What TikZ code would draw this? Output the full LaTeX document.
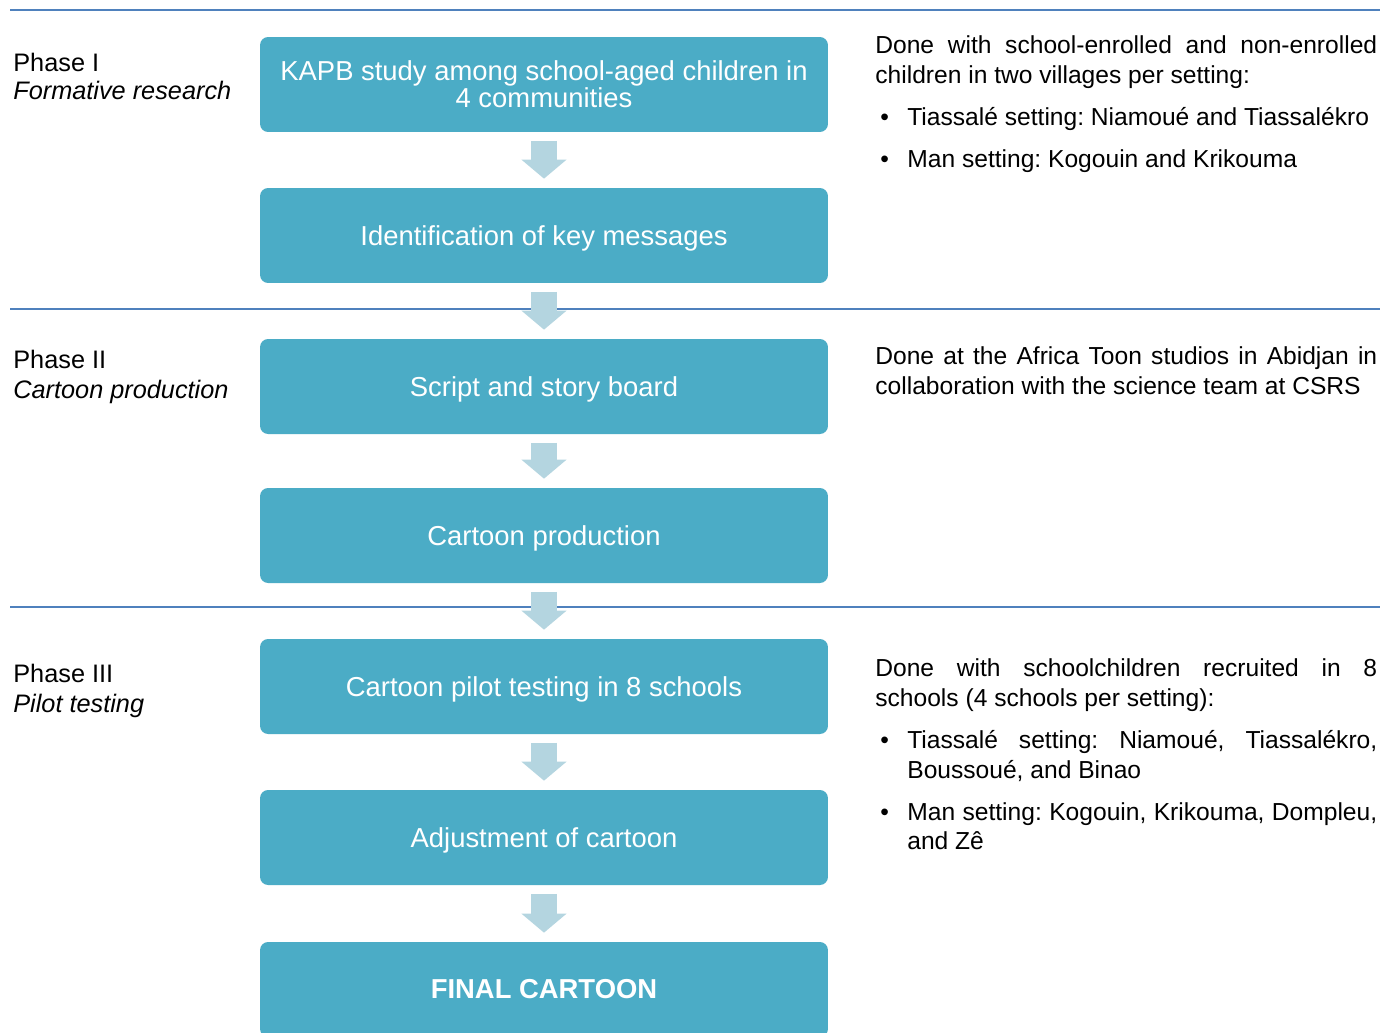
\documentclass[tikz,border=0pt]{standalone}
\usepackage{fontspec}
\setmainfont{Liberation Sans}
\usetikzlibrary{arrows.meta,calc}
\definecolor{boxblue}{HTML}{4BACC6}
\definecolor{arrowblue}{HTML}{B4D5E0}
\definecolor{ruleblue}{HTML}{4F81BD}
\newcommand{\bul}{\makebox[0.64cm][l]{\hspace{0.1cm}\textbullet}}
\newcommand{\lowered}[1]{\raisebox{-0.06cm}[\height][\depth]{#1}}
\frenchspacing
\begin{document}
\begin{tikzpicture}[x=0.02cm,y=-0.02cm,
  stepbox/.style={rounded corners=0.16cm, fill=boxblue, minimum width=11.36cm, minimum height=1.9cm, text=white, font=\fontsize{15.6}{15.4}\selectfont, align=center, inner sep=0},
  flowarrow/.style={draw=arrowblue, line width=0.52cm, -{Triangle[width=0.88cm,length=0.38cm]}, shorten <=0.17cm, shorten >=0.18cm},
  phaserule/.style={draw=ruleblue, line width=0.045cm},
  phaselabel/.style={anchor=base west, inner sep=0, font=\fontsize{14.4}{17}\selectfont},
  note/.style={anchor=base west, inner sep=0, font=\fontsize{14}{17}\selectfont},
]
\useasboundingbox (0,0) rectangle (1382,1032);
\fill[white] (0,0) rectangle (1382,1032);
% phase rules
\coordinate (r1l) at (10,10);   \coordinate (r1r) at (1380,10);
\coordinate (r2l) at (10,309);  \coordinate (r2r) at (1380,309);
\coordinate (r3l) at (10,607);  \coordinate (r3r) at (1380,607);
\draw[phaserule] (r1l) -- (r1r);
\draw[phaserule] (r2l) -- (r2r);
\draw[phaserule] (r3l) -- (r3r);
% boxes
\node[stepbox] (b1) at (544,84.5) {KAPB study among school-aged children in\\4 communities};
\node[stepbox] (b2) at (544,235.5) {\lowered{Identification of key messages}};
\node[stepbox] (b3) at (544,386.5) {\lowered{Script and story board}};
\node[stepbox] (b4) at (544,535.5) {\lowered{Cartoon production}};
\node[stepbox] (b5) at (544,686.5) {\lowered{Cartoon pilot testing in 8 schools}};
\node[stepbox] (b6) at (544,837.5) {\lowered{Adjustment of cartoon}};
\node[stepbox] (b7) at (544,989.5) {\bfseries FINAL CARTOON};
% arrows
\draw[flowarrow] (b1.south) -- (b2.north);
\draw[flowarrow] (b2.south) -- (b3.north);
\draw[flowarrow] (b3.south) -- (b4.north);
\draw[flowarrow] (b4.south) -- (b5.north);
\draw[flowarrow] (b5.south) -- (b6.north);
\draw[flowarrow] (b6.south) -- (b7.north);
% phase labels
\node[phaselabel] (p1) at (13,71) {Phase I};
\node[phaselabel] (p1s) at (13,99) {\itshape Formative research};
\node[phaselabel] (p2) at (13,368) {Phase II};
\node[phaselabel] (p2s) at (13,398) {\itshape Cartoon production};
\node[phaselabel] (p3) at (13,682) {Phase III};
\node[phaselabel] (p3s) at (13,712) {\itshape Pilot testing};
% notes phase I
\node[note] (n1a) at (875,53) {\makebox[10.04cm][s]{Done with school-enrolled and non-enrolled}};
\node[note] (n1b) at (875,83) {children in two villages per setting:};
\node[note] (n1c) at (875,125) {\bul Tiassalé setting: Niamoué and Tiassalékro};
\node[note] (n1d) at (875,167) {\bul Man setting: Kogouin and Krikouma};
% notes phase II
\node[note] (n2a) at (875,364) {\makebox[10.04cm][s]{Done at the Africa Toon studios in Abidjan in}};
\node[note] (n2b) at (875,394) {collaboration with the science team at CSRS};
% notes phase III
\node[note] (n3a) at (875,676) {\makebox[10.04cm][s]{Done with schoolchildren recruited in 8}};
\node[note] (n3b) at (875,706) {schools (4 schools per setting):};
\node[note] (n3c) at (875,748) {\bul\makebox[9.4cm][s]{Tiassalé setting: Niamoué, Tiassalékro,}};
\node[note] (n3d) at (907,778) {Boussoué, and Binao};
\node[note] (n3e) at (875,820) {\bul\makebox[9.4cm][s]{Man setting: Kogouin, Krikouma, Dompleu,}};
\node[note] (n3f) at (907,849) {and Zê};
\end{tikzpicture}
\end{document}
